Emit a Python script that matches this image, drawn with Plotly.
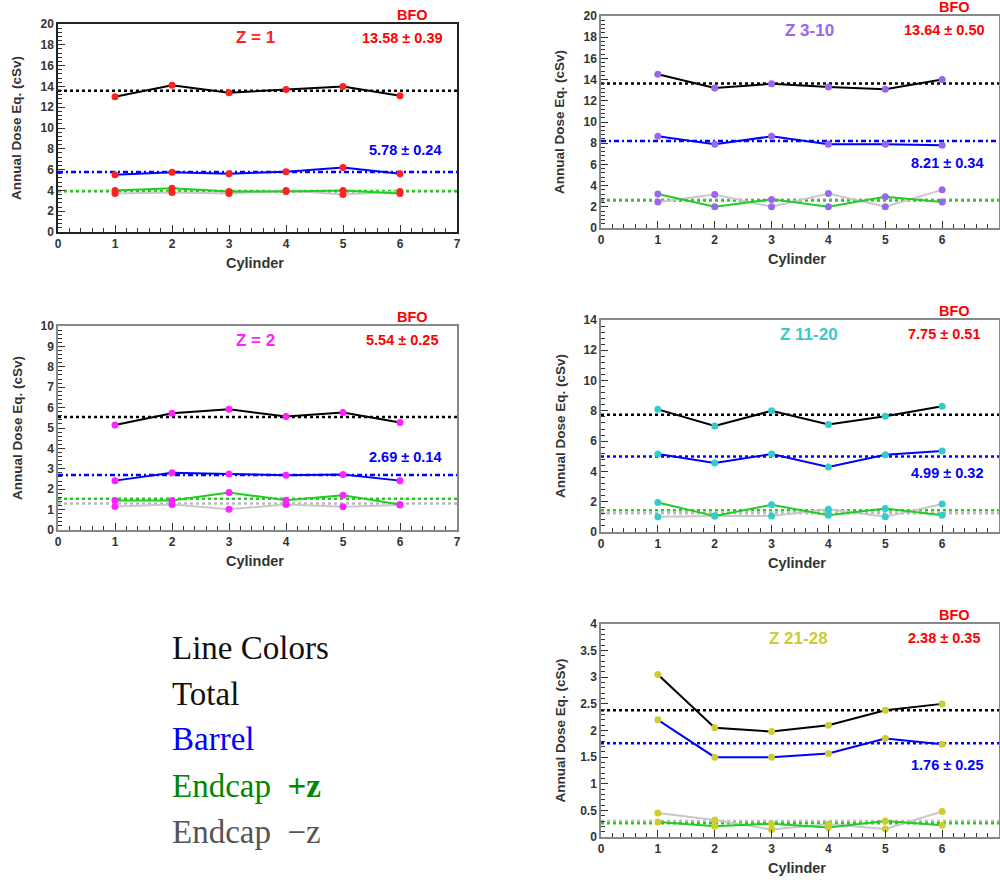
import plotly.graph_objects as go

cylinders = [1, 2, 3, 4, 5, 6]

# Panel labels and colours
panel_names = ["Z = 1", "Z 3-10", "Z = 2", "Z 11-20", "Z 21-28"]
panel_colors = ["#ff2020", "#9966ee", "#ff22ff", "#33cccc", "#cccc33"]

# Total annual dose per cylinder
total_z1 = [13.0, 14.1, 13.4, 13.7, 14.0, 13.1]
total_z3_10 = [14.5, 13.2, 13.6, 13.3, 13.1, 14.0]
total_z2 = [5.15, 5.72, 5.92, 5.56, 5.76, 5.27]
total_z11_20 = [8.1, 7.0, 8.0, 7.1, 7.65, 8.3]
total_z21_28 = [3.05, 2.05, 1.98, 2.1, 2.38, 2.5]

# Barrel
barrel_z1 = [5.5, 5.75, 5.6, 5.8, 6.2, 5.6]
barrel_z3_10 = [8.65, 7.9, 8.65, 7.9, 7.9, 7.8]
barrel_z2 = [2.42, 2.81, 2.75, 2.68, 2.72, 2.42]
barrel_z11_20 = [5.15, 4.55, 5.15, 4.3, 5.1, 5.35]
barrel_z21_28 = [2.2, 1.5, 1.5, 1.57, 1.85, 1.74]

# Endcap +z
ep_z1 = [4.0, 4.2, 3.9, 3.9, 4.0, 3.7]
ep_z3_10 = [3.2, 2.0, 2.7, 2.0, 2.95, 2.45]
ep_z2 = [1.45, 1.45, 1.84, 1.46, 1.7, 1.25]
ep_z11_20 = [1.95, 1.05, 1.8, 1.1, 1.55, 1.1]
ep_z21_28 = [0.28, 0.2, 0.25, 0.18, 0.3, 0.22]

# Endcap -z
em_z1 = [3.7, 3.8, 3.7, 4.0, 3.6, 3.9]
em_z3_10 = [2.45, 3.15, 2.0, 3.25, 2.0, 3.6]
em_z2 = [1.15, 1.25, 1.02, 1.25, 1.14, 1.22]
em_z11_20 = [1.0, 1.05, 1.05, 1.5, 1.0, 1.85]
em_z21_28 = [0.45, 0.32, 0.14, 0.24, 0.15, 0.48]

# BFO means and errors
total_mean = [13.58, 13.64, 5.54, 7.75, 2.38]
total_err = [0.39, 0.50, 0.25, 0.51, 0.35]
barrel_mean = [5.78, 8.21, 2.69, 4.99, 1.76]
barrel_err = [0.24, 0.34, 0.14, 0.32, 0.25]
ep_mean = [3.95, 2.6, 1.53, 1.43, 0.26]
em_mean = [3.9, 2.7, 1.3, 1.24, 0.3]

# Axis ranges
y_max = [20, 20, 10, 14, 4]
y_dtick = [2, 2, 1, 2, 0.5]
y_minor = [0.4, 0.4, 0.2, 0.4, 0.1]
x_range = [0, 7]

legend_lines = ["Line Colors", "Total", "Barrel", "Endcap\u00a0\u00a0<b>+z</b>", "Endcap\u00a0\u00a0\u2212z"]
legend_colors = ["#111111", "#111111", "#0000ff", "#008800", "#555555"]

totals = [total_z1, total_z3_10, total_z2, total_z11_20, total_z21_28]
barrels = [barrel_z1, barrel_z3_10, barrel_z2, barrel_z11_20, barrel_z21_28]
eps = [ep_z1, ep_z3_10, ep_z2, ep_z11_20, ep_z21_28]
ems = [em_z1, em_z3_10, em_z2, em_z11_20, em_z21_28]

# Layout geometry (pixels): left, right, top, bottom
W, H = 1000, 882
boxes = [(58, 457, 24, 232), (601, 999, 16, 228), (58, 457, 326, 530),
         (601, 999, 320, 532), (601, 999, 624, 837)]
frame_colors = ["#222222", "#888888", "#888888", "#888888", "#888888"]
barrel_dash = ["5px,3px,2px,3px", "5px,3px,2px,3px", "5px,3px,2px,3px", "dot", "dot"]

def px(x):
    return x / W

def py(y):
    return 1 - y / H

fig = go.Figure()
annotations = []
font_main = "Liberation Sans, Arial, sans-serif"

line_cols = {"em": "#c8c8c8", "ep": "#22cc22", "barrel": "#0000ff", "total": "#000000"}
mean_cols = {"em": "#bbbbbb", "ep": "#22cc22", "barrel": "#0000ff", "total": "#000000"}

def note(x, y, text, size, color, family=font_main, **kw):
    d = dict(x=px(x), y=py(y), xref="paper", yref="paper", text=text, showarrow=False,
             xanchor=kw.pop("xanchor", "center"), yanchor="middle",
             font=dict(family=family, size=size, color=color))
    d.update(kw)
    annotations.append(d)

for i in range(5):
    xa = "x" if i == 0 else f"x{i+1}"
    ya = "y" if i == 0 else f"y{i+1}"
    col = panel_colors[i]
    series = [("em", ems[i], em_mean[i]), ("ep", eps[i], ep_mean[i]),
              ("barrel", barrels[i], barrel_mean[i]), ("total", totals[i], total_mean[i])]
    # mean lines
    for key, vals, m in series:
        dash = barrel_dash[i] if key == "barrel" else "dot"
        fig.add_trace(go.Scatter(x=x_range, y=[m, m], mode="lines", xaxis=xa, yaxis=ya,
                                 line=dict(color=mean_cols[key], width=2.5, dash=dash),
                                 hoverinfo="skip"))
    for key, vals, m in series:
        fig.add_trace(go.Scatter(x=cylinders, y=vals, mode="lines+markers", xaxis=xa, yaxis=ya,
                                 line=dict(color=line_cols[key], width=2),
                                 marker=dict(color=col, size=7, symbol="circle")))
    l, r, t, b = boxes[i]
    axis_common = dict(showline=True, mirror=True, linecolor=frame_colors[i], linewidth=1.5,
                       ticks="inside", ticklen=7, tickcolor="#333333", tickwidth=1.2,
                       showgrid=False, zeroline=False, automargin=False,
                       tickfont=dict(family=font_main, size=12, color="#333333", weight="bold"))
    xkey = "xaxis" if i == 0 else f"xaxis{i+1}"
    ykey = "yaxis" if i == 0 else f"yaxis{i+1}"
    fig.update_layout({
        xkey: dict(domain=[px(l), px(r)], range=x_range, dtick=1, anchor=ya,
                   minor=dict(ticks="inside", ticklen=4, dtick=0.2, tickcolor="#333333"),
                   **axis_common),
        ykey: dict(domain=[py(b), py(t)], range=[0, y_max[i]], dtick=y_dtick[i], anchor=xa,
                   minor=dict(ticks="inside", ticklen=4, dtick=y_minor[i], tickcolor="#333333"),
                   **axis_common),
    })
    cx = (l + r) / 2
    note(r - 45, t - 9, "<b>BFO</b>", 14.5, "#ff0000")
    note(r - 55, t + 14, f"<b>{total_mean[i]:.2f} \u00b1 {total_err[i]:.2f}</b>", 14.5, "#ff0000")
    note(l + 197 if i % 2 == 0 else l + 208, t + 14, f"<b>{panel_names[i]}</b>", 17, col)
    blue_y = [150, 163, 457, 473, 765][i]
    note(r - 52, blue_y, f"<b>{barrel_mean[i]:.2f} \u00b1 {barrel_err[i]:.2f}</b>", 14.5, "#0000ff")
    note(l - 41, (t + b) / 2, "<b>Annual Dose Eq. (cSv)</b>", 13.5, "#333333", textangle=-90)
    note(cx - 3, b + 31, "<b>Cylinder</b>", 14.5, "#333333")

leg_y = [648, 694, 739, 786, 832]
for txt, c, yy in zip(legend_lines, legend_colors, leg_y):
    note(170, yy, txt, 33, c, family="Liberation Serif, Times New Roman, serif", xanchor="left")

fig.update_layout(width=W, height=H, margin=dict(l=0, r=0, t=0, b=0),
                  plot_bgcolor="white", paper_bgcolor="white", showlegend=False,
                  annotations=annotations)

fig.write_html("out.html", config={"displayModeBar": False},
               post_script="document.body.style.margin='0';document.body.style.overflow='hidden';")
